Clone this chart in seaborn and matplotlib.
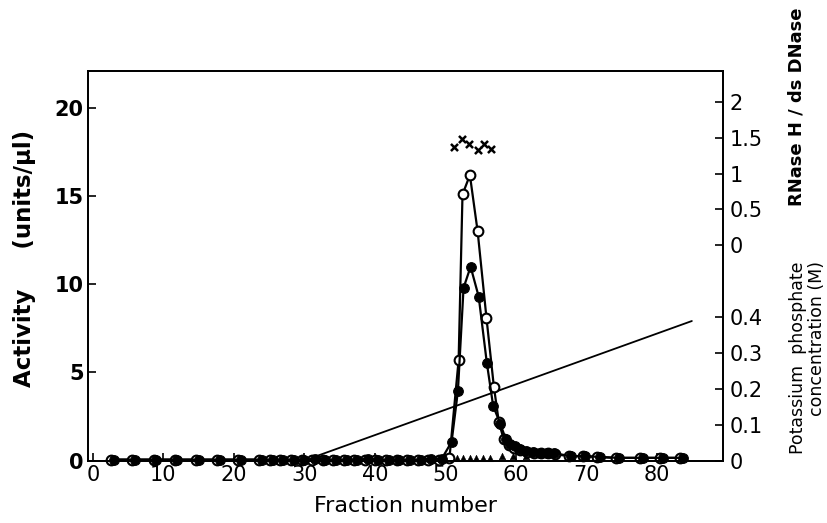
import matplotlib
matplotlib.use("Agg")
import matplotlib.pyplot as plt
import seaborn as sns

# filled circles (one activity), fraction number vs units/ul
filled_frac = [3, 6, 9, 12, 15, 18, 21, 24, 25.5, 27, 28.5, 30, 31.5, 33, 34.5, 36,
               37.5, 39, 40.5, 42, 43.5, 45, 46.5, 48, 49.5,
               50.9, 51.8, 52.6, 53.6, 54.75, 55.9, 56.8, 57.8, 58.6, 59.2, 59.9,
               60.6, 61.5, 62.5, 63.4, 64.4, 65.5, 67.9, 69.9, 71.9, 74.6, 78, 80.9, 83.7]
filled_act = [0.05, 0.05, 0.05, 0.05, 0.05, 0.05, 0.05, 0.05, 0.05, 0.05, 0.05, 0.05,
              0.1, 0.05, 0.05, 0.05, 0.05, 0.1, 0.05, 0.05, 0.05, 0.05, 0.05, 0.1, 0.1,
              1.05, 3.95, 9.8, 11.0, 9.3, 5.55, 3.1, 2.1, 1.2, 0.95, 0.8,
              0.65, 0.55, 0.5, 0.45, 0.42, 0.4, 0.25, 0.25, 0.2, 0.15, 0.15, 0.15, 0.15]

# open circles (other activity)
open_frac = [2.6, 5.6, 8.6, 11.6, 14.6, 17.6, 20.6, 23.6, 25.1, 26.6, 28.1, 29.6, 31.1,
             32.6, 34.1, 35.6, 37.1, 38.6, 40.1, 41.6, 43.1, 44.6, 46.1, 47.6, 49.1,
             50.6, 51.9, 52.45, 53.5, 54.6, 55.85, 56.9, 57.6, 58.3, 59.0, 59.8,
             60.6, 61.6, 62.6, 63.6, 64.6, 65.6, 67.6, 69.6, 71.6, 74.2, 77.6, 80.5, 83.3]
open_act = [0.05, 0.05, 0.05, 0.05, 0.05, 0.05, 0.05, 0.05, 0.05, 0.05, 0.05, 0.05,
            0.05, 0.05, 0.05, 0.05, 0.05, 0.05, 0.05, 0.05, 0.05, 0.05, 0.05, 0.05, 0.05,
            0.15, 5.7, 15.1, 16.2, 13.0, 8.1, 4.2, 2.2, 1.2, 0.9, 0.7,
            0.6, 0.5, 0.45, 0.4, 0.4, 0.35, 0.25, 0.25, 0.2, 0.15, 0.15, 0.15, 0.15]

# triangles near baseline
tri_frac = [51.6, 52.5, 53.5, 54.4, 55.4, 56.3, 58.0, 59.6, 61.5]
tri_act = [0.15, 0.15, 0.15, 0.15, 0.15, 0.15, 0.25, 0.25, 0.25]

# RNase H / ds DNase ratio (x markers)
ratio_frac = [51.3, 52.4, 53.4, 54.6, 55.5, 56.5]
ratio_val = [1.37, 1.48, 1.41, 1.33, 1.42, 1.34]

# potassium phosphate gradient
grad_frac = [30, 85]
grad_conc = [0.0, 0.39]

ratio_ticks = [0, 0.5, 1, 1.5, 2]
conc_ticks = [0, 0.1, 0.2, 0.3, 0.4]


def ratio_to_act(r):
    return 12.22 + 4.06 * r


def conc_to_act(c):
    return 20.3 * c


sns.set_style("ticks")
plt.rcParams['font.family'] = ['DejaVu Sans']
plt.rcParams['text.color'] = 'black'
plt.rcParams['axes.labelcolor'] = 'black'
plt.rcParams['xtick.color'] = 'black'
plt.rcParams['ytick.color'] = 'black'
plt.rcParams['axes.edgecolor'] = 'black'

fig = plt.figure(figsize=(8.28, 5.23), dpi=100)
ax = fig.add_axes([0.1063, 0.1195, 0.7667, 0.7445])

sns.lineplot(x=grad_frac, y=[conc_to_act(c) for c in grad_conc], color='black',
             linewidth=1.3, ax=ax)
sns.lineplot(x=open_frac, y=open_act, color='black', linewidth=1.6, marker='o',
             markersize=7, markerfacecolor='white', markeredgecolor='black',
             markeredgewidth=1.5, ax=ax, clip_on=False)
sns.lineplot(x=filled_frac, y=filled_act, color='black', linewidth=1.6, marker='o',
             markersize=7, markerfacecolor='black', markeredgecolor='black',
             ax=ax, clip_on=False)
sns.scatterplot(x=tri_frac, y=tri_act, color='black', marker='^', s=22,
                edgecolor='black', ax=ax, clip_on=False)
sns.scatterplot(x=ratio_frac, y=[ratio_to_act(r) for r in ratio_val], color='black',
                marker='x', s=26, linewidth=1.8, ax=ax)

ax.set_xlim(-0.7, 89.4)
ax.set_ylim(0, 22.1)
ax.set_xticks([0, 10, 20, 30, 40, 50, 60, 70, 80])
ax.set_yticks([0, 5, 10, 15, 20])
ax.tick_params(direction='in', length=6, width=1.2, labelsize=15, pad=3)
for lab in ax.get_yticklabels():
    lab.set_fontweight('bold')
for s in ax.spines.values():
    s.set_linewidth(1.3)
ax.set_xlabel("Fraction number", fontsize=16, labelpad=8)
ax.set_ylabel("")

fig.text(0.030, 0.505, "Activity     (units/\u00b5l)", rotation=90, fontsize=16.5,
         fontweight='bold', ha='center', va='center')

ax2 = ax.twinx()
ax2.set_ylim(ax.get_ylim())
pos = [ratio_to_act(r) for r in ratio_ticks] + [conc_to_act(c) for c in conc_ticks]
labs = ['0', '0.5', '1', '1.5', '2'] + ['0', '0.1', '0.2', '0.3', '0.4']
ax2.set_yticks(pos)
ax2.set_yticklabels(labs)
ax2.tick_params(direction='in', length=6, width=1.2, labelsize=15, pad=5)
for s in ax2.spines.values():
    s.set_linewidth(1.3)

fig.text(0.962, 0.795, "RNase H / ds DNase", rotation=90, fontsize=13,
         fontweight='bold', ha='center', va='center')
fig.text(0.975, 0.50, "Potassium  phosphate\nconcentration (M)", rotation=90,
         fontsize=12.5, ha='center', va='top', multialignment='right',
         linespacing=1.1)

fig.savefig("out.png", dpi=100)
